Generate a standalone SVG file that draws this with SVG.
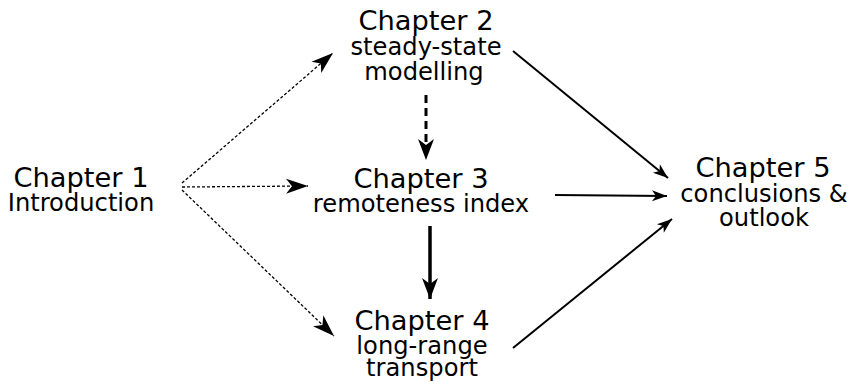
<svg xmlns="http://www.w3.org/2000/svg" width="859" height="382" viewBox="0 0 859 382">
  <style>
    .title { font-family: "DejaVu Sans", sans-serif; font-size: 27.3px; fill: #000; text-anchor: middle; }
    .sub { font-family: "DejaVu Sans", sans-serif; font-size: 24.2px; fill: #000; text-anchor: middle; }
    .dot { fill: none; stroke: #000; stroke-width: 1.3; stroke-dasharray: 3 2; }
    .thin { fill: none; stroke: #000; stroke-width: 2; }
  </style>
  <defs>
    <marker id="headBig" markerUnits="userSpaceOnUse" viewBox="-22 -8 24 16" markerWidth="24" markerHeight="16" refX="0" refY="0" orient="auto">
      <path d="M0,0 L-22,-7.5 L-16,0 L-22,7.5 Z" fill="#000"/>
    </marker>
    <marker id="headSmall" markerUnits="userSpaceOnUse" viewBox="-16 -6 18 12" markerWidth="18" markerHeight="12" refX="0" refY="0" orient="auto">
      <path d="M0,0 L-15,-5.5 L-11,0 L-15,5.5 Z" fill="#000"/>
    </marker>
    <marker id="headThick" markerUnits="userSpaceOnUse" viewBox="-22 -9 24 18" markerWidth="24" markerHeight="18" refX="0" refY="0" orient="auto">
      <path d="M0,0 L-21,-8 L-15,0 L-21,8 Z" fill="#000"/>
    </marker>
  </defs>

  <g id="connectors">
    <!-- from chapter 1 (dotted) -->
    <path class="dot" d="M182,183 L333,53" marker-end="url(#headBig)"/>
    <path class="dot" d="M182,187 L308,186" marker-end="url(#headBig)"/>
    <path class="dot" d="M182,190 L334,336" marker-end="url(#headBig)"/>
    <!-- chapter 2 to chapter 3 (dashed) -->
    <path d="M426,95 L426,160" fill="none" stroke="#000" stroke-width="3" stroke-dasharray="8 5" marker-end="url(#headThick)"/>
    <!-- chapter 3 to chapter 4 -->
    <path d="M430,226 L430,299" fill="none" stroke="#000" stroke-width="3.5" marker-end="url(#headThick)"/>
    <!-- into chapter 5 -->
    <path class="thin" d="M513,51 L668,178" marker-end="url(#headSmall)"/>
    <path class="thin" d="M555,195 L667,196" marker-end="url(#headSmall)"/>
    <path class="thin" d="M513,348 L672,219" marker-end="url(#headSmall)"/>
  </g>

  <g id="ch1">
    <text class="title" x="81" y="187">Chapter 1</text>
    <text class="sub" x="81" y="211">Introduction</text>
  </g>
  <g id="ch2">
    <text class="title" x="426" y="30">Chapter 2</text>
    <text class="sub" x="426" y="55">steady-state</text>
    <text class="sub" x="424" y="80">modelling</text>
  </g>
  <g id="ch3">
    <text class="title" x="421" y="188">Chapter 3</text>
    <text class="sub" x="421" y="212">remoteness index</text>
  </g>
  <g id="ch4">
    <text class="title" x="422" y="330">Chapter 4</text>
    <text class="sub" x="422" y="354">long-range</text>
    <text class="sub" x="422" y="376">transport</text>
  </g>
  <g id="ch5">
    <text class="title" x="763" y="177">Chapter 5</text>
    <text class="sub" x="764" y="202">conclusions &amp;</text>
    <text class="sub" x="764" y="226">outlook</text>
  </g>
</svg>
